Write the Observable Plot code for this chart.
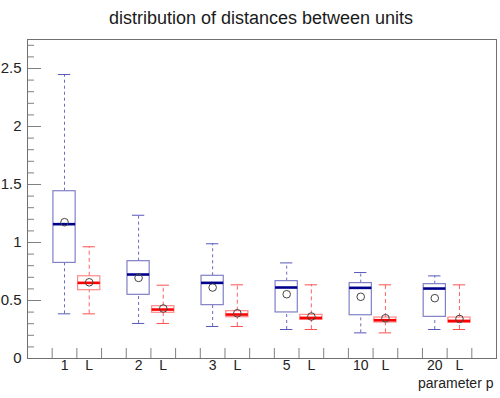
<!DOCTYPE html>
<html><head><meta charset="utf-8">
<script src="https://cdn.jsdelivr.net/npm/d3@7"></script>
<script src="https://cdn.jsdelivr.net/npm/@observablehq/plot@0.6"></script>
<style>
html,body{margin:0;padding:0;background:#fff;}
body{width:500px;height:398px;overflow:hidden;font-family:"Liberation Sans",Arial,Helvetica,sans-serif;}
#title{height:30px;line-height:36px;text-align:center;font-size:18px;color:#1a1a1a;padding-left:22px;box-sizing:border-box;}
#chart svg{display:block;}
</style></head><body>
<div id="title">distribution of distances between units</div>
<div id="chart"></div>
<script>
const params = ["1","2","3","5","10","20"];
const blueMin  = [0.385,0.302,0.276,0.250,0.221,0.250];
const blueQ1   = [0.824,0.549,0.460,0.397,0.373,0.359];
const blueMed  = [1.158,0.724,0.652,0.612,0.609,0.603];
const blueQ3   = [1.442,0.839,0.713,0.667,0.650,0.641];
const blueMax  = [2.448,1.235,0.989,0.824,0.741,0.712];
const blueMean = [1.175,0.695,0.612,0.554,0.532,0.520];
const redMin   = [0.385,0.302,0.276,0.250,0.221,0.250];
const redQ1    = [0.589,0.394,0.356,0.333,0.310,0.307];
const redMed   = [0.652,0.422,0.379,0.350,0.330,0.324];
const redQ3    = [0.709,0.451,0.408,0.376,0.353,0.353];
const redMax   = [0.963,0.632,0.635,0.635,0.635,0.635];
const redMean  = [0.657,0.431,0.390,0.362,0.347,0.341];
const yMajor = [0, 0.5, 1, 1.5, 2, 2.5];
const yMinor = d3.range(0, 28).map(i => i / 10);
const xTicks = d3.range(1, 19);
const xTitle = "parameter p";

const rows = [];
params.forEach((p, i) => {
  rows.push({slot: 3*i+1, kind: "p", label: p, min: blueMin[i], q1: blueQ1[i], med: blueMed[i], q3: blueQ3[i], max: blueMax[i], mean: blueMean[i]});
  rows.push({slot: 3*i+2, kind: "L", label: "L", min: redMin[i], q1: redQ1[i], med: redMed[i], q3: redQ3[i], max: redMax[i], mean: redMean[i]});
});
const blue = rows.filter(d => d.kind === "p");
const red = rows.filter(d => d.kind === "L");

const W = 500, H = 368, mT = 9, mB = 40, mL = 27, mR = 4;
const col = {
  p: {box: "#8080c6", med: "#00008e", whisk: "#6a6ac0", cap: "#5858ba", dash: "3,3"},
  L: {box: "#ff8a8a", med: "#ff0000", whisk: "#ff6464", cap: "#ff5050", dash: "4,3"}
};

function boxMarks(data, c) {
  return [
    Plot.ruleX(data, {x: d => d.slot + 0.5, y1: "min", y2: "q1", stroke: c.whisk, strokeDasharray: c.dash, strokeWidth: 1}),
    Plot.ruleX(data, {x: d => d.slot + 0.5, y1: "q3", y2: "max", stroke: c.whisk, strokeDasharray: c.dash, strokeWidth: 1}),
    Plot.ruleY(data, {y: "min", x1: d => d.slot + 0.25, x2: d => d.slot + 0.75, stroke: c.cap, strokeWidth: 1}),
    Plot.ruleY(data, {y: "max", x1: d => d.slot + 0.25, x2: d => d.slot + 0.75, stroke: c.cap, strokeWidth: 1}),
    Plot.rect(data, {x1: d => d.slot + 0.05, x2: d => d.slot + 0.95, y1: "q1", y2: "q3", fill: "none", stroke: c.box, strokeWidth: 1.2}),
    Plot.ruleY(data, {y: "med", x1: d => d.slot + 0.05, x2: d => d.slot + 0.95, stroke: c.med, strokeWidth: 2.6}),
    Plot.dot(data, {x: d => d.slot + 0.5, y: "mean", r: 3.8, stroke: "#444", strokeWidth: 1, fill: "none"})
  ];
}

const chart = Plot.plot({
  width: W, height: H,
  marginTop: mT, marginBottom: mB, marginLeft: mL, marginRight: mR,
  style: {fontFamily: "'Liberation Sans', Arial, sans-serif", background: "#fff"},
  x: {domain: [0, 19], axis: null, label: null},
  y: {domain: [0, 2.75], axis: null, label: null},
  marks: [
    Plot.ruleX(xTicks, {x: d => d, stroke: "#808080", insetTop: H - mT - mB - 10}),
    Plot.ruleY(yMinor, {y: d => d, stroke: "#808080", insetRight: W - mL - mR - 7}),
    Plot.ruleY(yMajor, {y: d => d, stroke: "#808080", insetRight: W - mL - mR - 14}),
    Plot.text(yMajor, {y: d => d, text: d => String(d), frameAnchor: "left", textAnchor: "end", dx: -6, fontSize: 15, fill: "#222"}),
    Plot.text(rows, {x: d => d.slot + 0.5, text: "label", frameAnchor: "bottom", lineAnchor: "top", dy: 2, fontSize: 14, fill: "#222"}),
    Plot.text([xTitle], {text: d => d, frameAnchor: "bottom-right", textAnchor: "end", lineAnchor: "bottom", dx: -3, dy: 29, fontSize: 14, fill: "#222"}),
    ...boxMarks(blue, col.p),
    ...boxMarks(red, col.L),
    Plot.frame({stroke: "#707070", strokeWidth: 1})
  ]
});
document.getElementById("chart").appendChild(chart);
</script>
</body></html>
